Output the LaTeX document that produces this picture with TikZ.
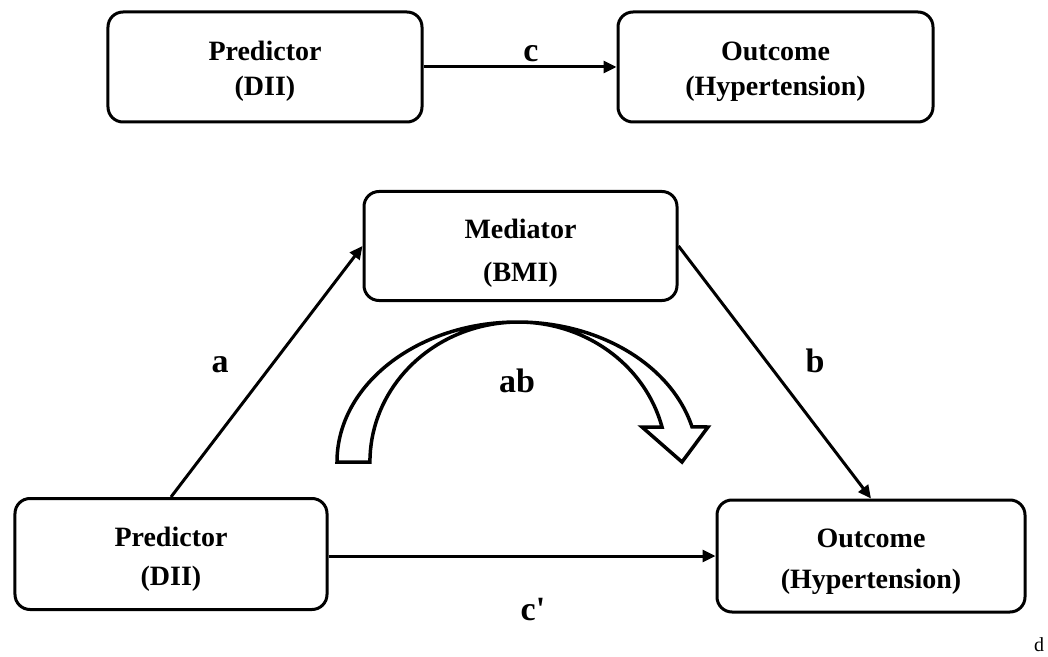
\documentclass[tikz,border=0pt]{standalone}
\usepackage{fontspec}
\setmainfont{Liberation Serif}[Ligatures=TeXOff]
\usetikzlibrary{arrows.meta}
\newcommand{\lift}[1]{\rule{0pt}{#1}}
\begin{document}
\begin{tikzpicture}[x=1bp,y=-1bp,
  box/.style={draw, line width=3bp, rounded corners=15bp, align=center, inner sep=0pt,
    font=\fontsize{28bp}{35bp}\selectfont\bfseries},
  conn/.style={line width=3bp, -{Triangle[length=13bp,width=12bp]}},
  lbl/.style={anchor=base, inner sep=0pt, font=\fontsize{34bp}{40bp}\selectfont\bfseries},
  bigarrow/.style={draw, line width=3.5bp, fill=white, line join=miter}
]
\useasboundingbox (0,0) rectangle (1048,657);
% top row
\node[box, minimum width=314bp, minimum height=110bp] (tp) at (265,67) {\lift{28bp}Predictor\\(DII)};
\node[box, minimum width=315bp, minimum height=110bp] (to) at (775.5,67) {\lift{28bp}Outcome\\(Hypertension)};
\draw[conn] (tp) -- (to);
\node[lbl] (lc) at (531,62) {c};
% mediation model
\node[box, minimum width=313bp, minimum height=109bp, font=\fontsize{28bp}{43bp}\selectfont\bfseries] (med) at (520.5,246) {\lift{33bp}Mediator\\(BMI)};
\node[box, minimum width=312bp, minimum height=111bp, font=\fontsize{28bp}{39bp}\selectfont\bfseries] (pb) at (171,554) {\lift{29bp}Predictor\\(DII)};
\node[box, minimum width=308bp, minimum height=112bp, font=\fontsize{28bp}{41bp}\selectfont\bfseries] (ob) at (871,556) {\lift{31bp}Outcome\\(Hypertension)};
\draw[conn] (pb.north) -- (med.west);
\draw[conn] (med.east) -- (ob.north);
\draw[conn] (pb.east |- ob.west) -- (ob.west);
\node[lbl] (la) at (220,372) {a};
\node[lbl] (lb) at (815,372) {b};
\node[lbl] (lcp) at (533,620) {c'};
\node[lbl] (lab) at (517,392) {ab};
% curved block arrow
\draw[bigarrow] (337,462) arc[start angle=180, end angle=345.5, x radius=180.4, y radius=140]
  -- (708,427) -- (682,462) -- (642,427) -- (662,427)
  arc[start angle=345.5, end angle=180, x radius=148.4, y radius=140] -- cycle;
\node[anchor=base, inner sep=0pt, font=\fontsize{20bp}{24bp}\selectfont] (ld) at (1039,651) {d};
\end{tikzpicture}
\end{document}
